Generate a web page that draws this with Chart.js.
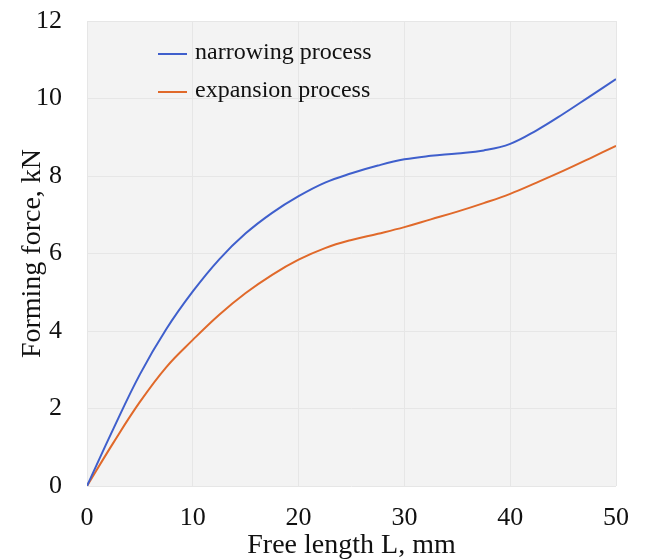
<!DOCTYPE html>
<html>
<head>
<meta charset="utf-8">
<title>Forming force vs free length</title>
<script src="https://cdn.jsdelivr.net/npm/chart.js@4/dist/chart.umd.min.js"></script>
<style>
  html, body { margin: 0; padding: 0; background: #ffffff; }
  #myChart { display: block; }
</style>
</head>
<body>
<canvas id="myChart" width="646" height="560"></canvas>
<script>
'use strict';

// global variables

let freeLength = [0, 2.5, 5, 7.5, 10, 12.5, 15, 17.5, 20, 22.5, 25, 27.5, 30, 32.5, 35, 37.5, 40, 42.5, 45, 47.5, 50];
let narrowingForce = [0, 1.48, 2.88, 4.05, 5.02, 5.85, 6.52, 7.05, 7.48, 7.83, 8.07, 8.27, 8.43, 8.52, 8.58, 8.66, 8.83, 9.18, 9.6, 10.05, 10.5];
let expansionForce = [0, 1.12, 2.17, 3.07, 3.77, 4.42, 4.98, 5.45, 5.84, 6.14, 6.35, 6.51, 6.68, 6.88, 7.08, 7.3, 7.54, 7.83, 8.13, 8.45, 8.78];

let seriesNames = ['narrowing process', 'expansion process'];
let seriesColors = ['#3f5fcc', '#e0692a'];

let xTicks = [0, 10, 20, 30, 40, 50];
let yTicks = [0, 2, 4, 6, 8, 10, 12];

let serifFont = '"Liberation Serif", "Times New Roman", serif';

// build point lists for the line datasets
function makePoints(xs, ys) {
  let pts = [];
  for (let i = 0; i < xs.length; i++) {
    pts.push({ x: xs[i], y: ys[i] });
  }
  return pts;
}

// grey plot background
let plotBackground = {
  id: 'plotBackground',
  beforeDraw(chart) {
    let ctx = chart.ctx;
    let a = chart.chartArea;
    ctx.save();
    ctx.fillStyle = '#f3f3f3';
    ctx.fillRect(a.left, a.top, a.right - a.left, a.bottom - a.top);
    ctx.restore();
  }
};

// legend drawn inside the plot, upper left
let innerLegend = {
  id: 'innerLegend',
  afterDraw(chart) {
    let ctx = chart.ctx;
    let a = chart.chartArea;
    ctx.save();
    ctx.font = '24px ' + serifFont;
    ctx.textBaseline = 'middle';
    ctx.textAlign = 'left';
    chart.data.datasets.forEach(function (ds, i) {
      let y = a.top + 33 + i * 38;
      ctx.strokeStyle = ds.borderColor;
      ctx.lineWidth = 2;
      ctx.beginPath();
      ctx.moveTo(a.left + 71, y);
      ctx.lineTo(a.left + 100, y);
      ctx.stroke();
      ctx.fillStyle = '#111111';
      ctx.fillText(ds.label, a.left + 108, y - 1);
    });
    ctx.restore();
  }
};

const ctx = document.getElementById('myChart').getContext('2d');

let myChart = new Chart(ctx, {
  type: 'line',
  data: {
    datasets: [
      {
        label: seriesNames[0],
        data: makePoints(freeLength, narrowingForce),
        borderColor: seriesColors[0],
        borderWidth: 2,
        pointRadius: 0,
        tension: 0.4,
        fill: false
      },
      {
        label: seriesNames[1],
        data: makePoints(freeLength, expansionForce),
        borderColor: seriesColors[1],
        borderWidth: 2,
        pointRadius: 0,
        tension: 0.4,
        fill: false
      }
    ]
  },
  options: {
    responsive: false,
    animation: false,
    layout: { padding: { left: 0, top: 21, right: 30, bottom: 0 } },
    plugins: {
      legend: { display: false },
      tooltip: { enabled: false }
    },
    scales: {
      x: {
        type: 'linear',
        min: 0,
        max: 50,
        afterBuildTicks: function (scale) {
          scale.ticks = xTicks.map(function (v) { return { value: v }; });
        },
        afterFit: function (scale) {
          scale.height = 74;
          scale.paddingLeft = 0;
          scale.paddingRight = 0;
        },
        grid: { color: '#e6e6e6', lineWidth: 1, drawTicks: false },
        border: { display: false },
        ticks: {
          color: '#111111',
          padding: 17,
          maxRotation: 0,
          font: { family: serifFont, size: 26 }
        },
        title: {
          display: true,
          text: 'Free length L, mm',
          color: '#111111',
          padding: { top: 0, bottom: 0 },
          font: { family: serifFont, size: 28, lineHeight: 1 }
        }
      },
      y: {
        type: 'linear',
        min: 0,
        max: 12,
        afterBuildTicks: function (scale) {
          scale.ticks = yTicks.map(function (v) { return { value: v }; });
        },
        afterFit: function (scale) {
          scale.width = 87;
          scale.paddingTop = 0;
          scale.paddingBottom = 0;
        },
        grid: { color: '#e6e6e6', lineWidth: 1, drawTicks: false },
        border: { display: false },
        ticks: {
          color: '#111111',
          padding: 25,
          font: { family: serifFont, size: 26 }
        },
        title: {
          display: true,
          text: 'Forming force, kN',
          color: '#111111',
          padding: { top: 19, bottom: 0 },
          font: { family: serifFont, size: 28, lineHeight: 1 }
        }
      }
    }
  },
  plugins: [plotBackground, innerLegend]
});
</script>
</body>
</html>
